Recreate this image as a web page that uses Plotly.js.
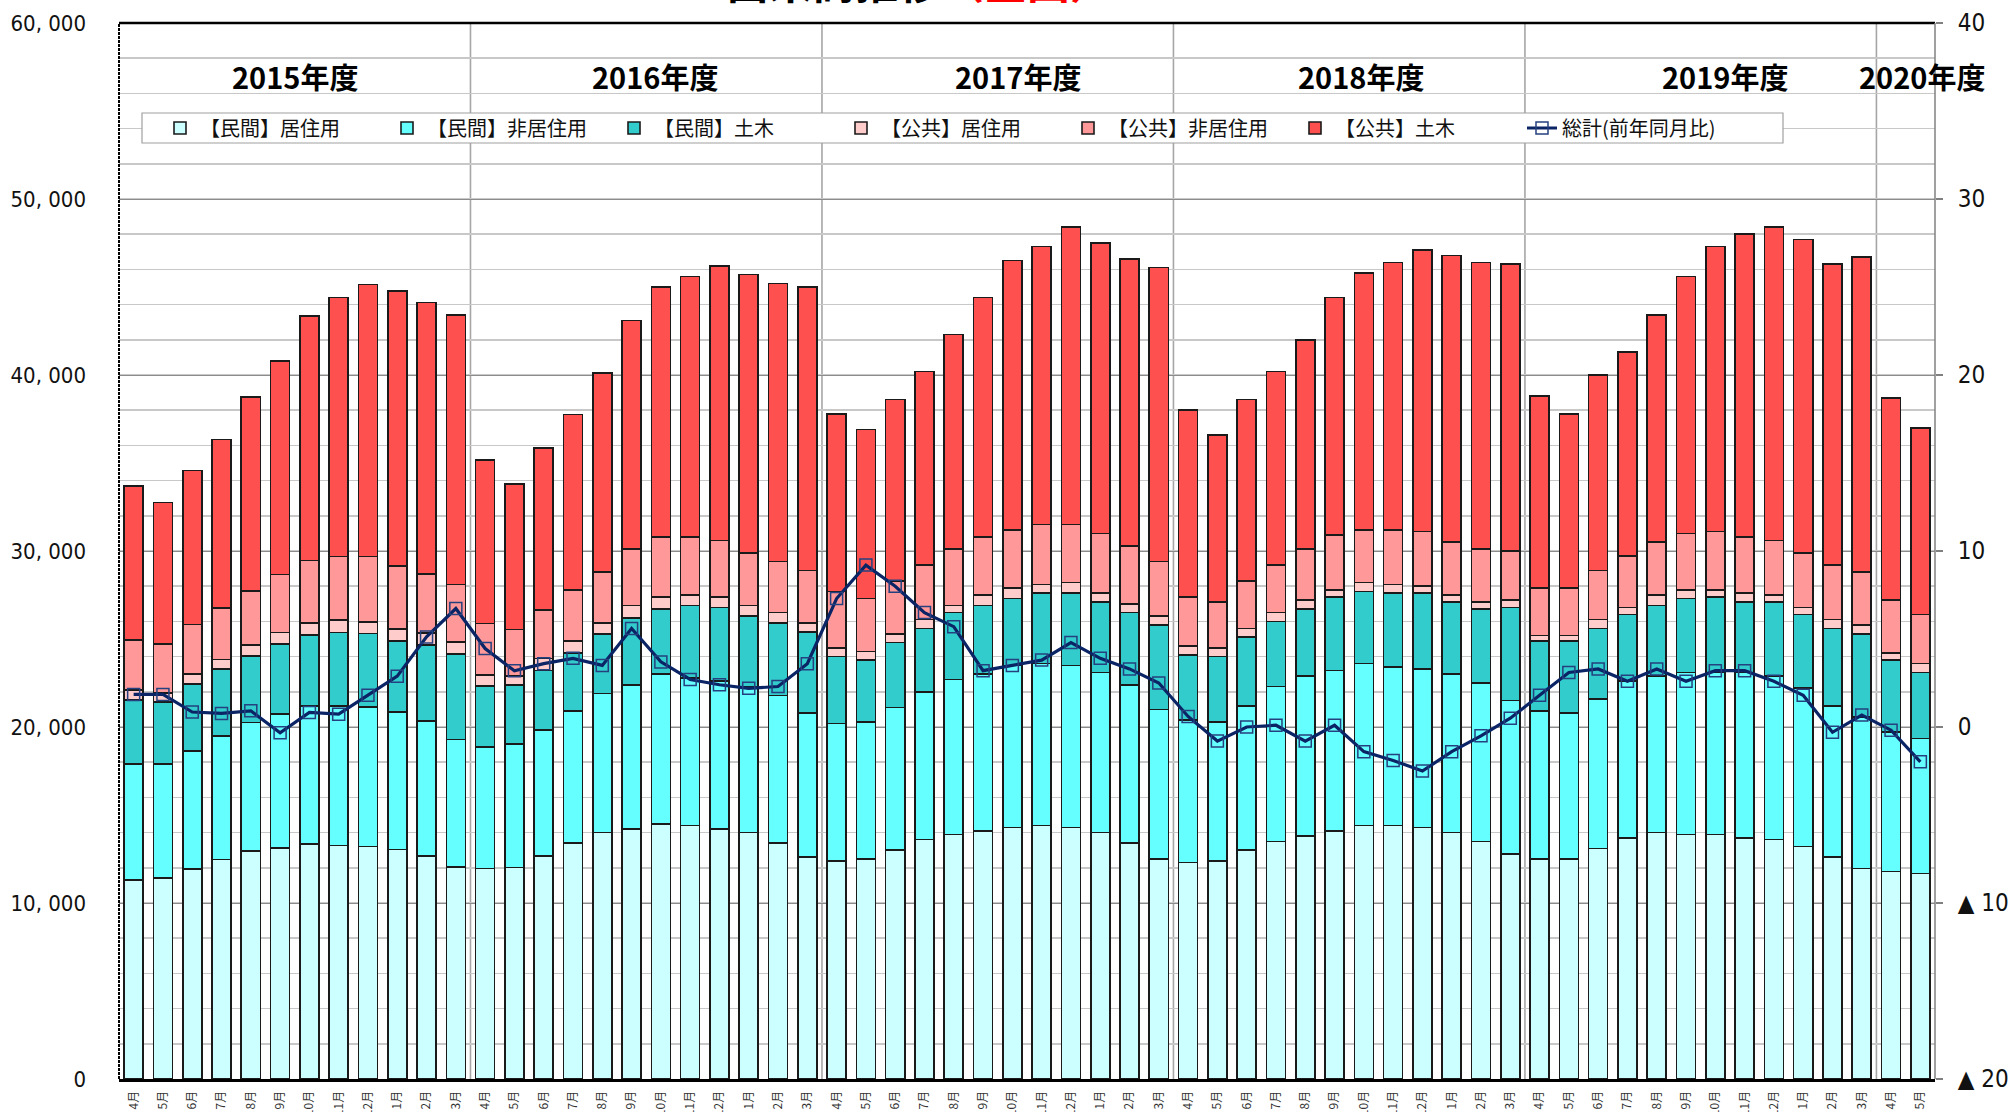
<!DOCTYPE html>
<html><head><meta charset="utf-8">
<script src="https://cdn.plot.ly/plotly-3.0.1.min.js"></script>
<style>html,body{margin:0;padding:0;background:#fff;overflow:hidden}#chart{width:2016px;height:1112px}</style>
</head><body><div id="chart"></div>
<script>
// ---- tick labels / categories ----
const months = [
 '4月','5月','6月','7月','8月','9月','10月','11月','12月','1月','2月','3月',
 '4月','5月','6月','7月','8月','9月','10月','11月','12月','1月','2月','3月',
 '4月','5月','6月','7月','8月','9月','10月','11月','12月','1月','2月','3月',
 '4月','5月','6月','7月','8月','9月','10月','11月','12月','1月','2月','3月',
 '4月','5月','6月','7月','8月','9月','10月','11月','12月','1月','2月','3月',
 '4月','5月'];
const fiscalYears = ['2015年度','2016年度','2017年度','2018年度','2019年度','2020年度'];
const seriesNames = ['【民間】居住用','【民間】非居住用','【民間】土木','【公共】居住用','【公共】非居住用','【公共】土木'];
const lineName = '総計(前年同月比)';

// ---- series values (億円) ----
const privRes = [
 11300,11430,11930,12480,12950,13140,13340,13270,13200,13050,12680,12030,
 11950,12020,12680,13400,14000,14200,14500,14400,14200,14000,13400,12600,
 12400,12500,13000,13600,13900,14100,14300,14400,14300,14000,13400,12500,
 12300,12400,13000,13500,13800,14100,14400,14400,14300,14000,13500,12800,
 12500,12500,13100,13700,14000,13900,13900,13700,13600,13200,12600,11970,
 11780,11680];
const privNonRes = [
 6590,6460,6720,7020,7310,7590,7850,7920,7950,7810,7650,7270,
 6930,7020,7160,7500,7900,8200,8500,8400,8400,8300,8400,8200,
 7800,7800,8100,8400,8800,8900,9200,9200,9200,9100,9000,8500,
 8100,7900,8200,8800,9100,9100,9200,9000,9000,9000,9000,8700,
 8400,8300,8500,8900,8900,9200,9200,9400,9300,9000,8600,8610,
 7950,7670];
const privCivil = [
 3640,3540,3800,3790,3780,3980,4030,4180,4170,4040,4320,4840,
 3460,3360,3360,3300,3400,3800,3700,4100,4200,4000,4100,4600,
 3800,3500,3700,3600,3800,3900,3800,4000,4100,4000,4100,4800,
 3700,3700,3900,3700,3800,4200,4100,4200,4300,4100,4200,5300,
 4000,4100,4000,3800,4000,4200,4300,4000,4200,4200,4400,4720,
 4070,3750];
const pubRes = [
 570,510,570,550,630,660,700,700,660,660,680,680,
 620,500,700,700,600,700,700,600,600,600,600,500,
 500,500,500,500,400,600,600,500,600,500,500,500,
 500,500,500,500,500,400,500,500,400,400,400,400,
 300,300,500,400,600,500,400,500,400,400,500,500,
 400,500];
const pubNonRes = [
 2840,2770,2810,2930,3070,3300,3540,3620,3710,3600,3350,3280,
 2920,2650,2750,2900,2900,3200,3400,3300,3200,3000,2900,3000,
 3200,3000,3000,3100,3200,3300,3300,3400,3300,3400,3300,3100,
 2800,2600,2700,2700,2900,3100,3000,3100,3100,3000,3000,2800,
 2700,2700,2800,2900,3000,3200,3300,3200,3100,3100,3100,3000,
 3000,2800];
const pubCivil = [
 8740,8050,8740,9570,11000,12110,13880,14710,15450,15610,15450,15310,
 9280,8250,9210,9960,11300,13000,14200,14800,15600,15800,15800,16100,
 10100,9600,10300,11000,12200,13600,15300,15800,16900,16500,16300,16700,
 10600,9500,10300,11000,11900,13500,14600,15200,16000,16300,16300,16300,
 10900,9900,11100,11600,12900,14600,16200,17200,17800,17800,17100,17900,
 11500,10600];
// 総計 前年同月比 (%)
const totalYoY = [
 1.85,1.85,0.85,0.77,0.92,-0.33,0.83,0.73,1.81,2.89,5.12,6.73,
 4.46,3.19,3.6,3.9,3.5,5.6,3.7,2.7,2.4,2.2,2.3,3.6,
 7.3,9.2,8.0,6.5,5.7,3.2,3.5,3.8,4.8,3.9,3.3,2.5,
 0.6,-0.8,0.0,0.1,-0.8,0.1,-1.4,-1.9,-2.5,-1.4,-0.5,0.5,
 1.8,3.1,3.3,2.6,3.3,2.6,3.2,3.2,2.6,1.8,-0.3,0.68,
 -0.18,-1.98];

const leftTicks = [0,10000,20000,30000,40000,50000,60000];
const leftTickText = ['0','10, 000','20, 000','30, 000','40, 000','50, 000','60, 000'];
const rightTicks = [-20,-10,0,10,20,30,40];
const rightTickText = ['▲ 20','▲ 10','0','10','20','30','40'];

const colors = ['#CCFFFF','#66FFFF','#33CCCC','#FFCCCC','#FF9999','#FF5050'];
const seriesVals = [privRes, privNonRes, privCivil, pubRes, pubNonRes, pubCivil];
const xs = months.map((m,i)=>i);

const traces = seriesVals.map((vals,k)=>({
  type:'bar', x:xs, y:vals, name:seriesNames[k],
  marker:{color:colors[k], line:{color:'#1a1a1a', width:1.6}},
  hoverinfo:'skip'
}));
traces.push({
  type:'scatter', mode:'lines+markers', x:xs, y:totalYoY, yaxis:'y2', name:lineName,
  line:{color:'#0a2466', width:3.2},
  marker:{symbol:'square-open', size:12, color:'#24407e', line:{width:1.5}},
  hoverinfo:'skip'
});

// fiscal-year groups
const starts = []; months.forEach((m,i)=>{ if(m==='4月') starts.push(i); });
const groups = starts.map((s,g)=>{ const e = (g+1<starts.length? starts[g+1]: months.length)-1; return [s,e]; });

const shapes = [];
starts.slice(1).forEach(s=>{
  shapes.push({type:'line', xref:'x', yref:'paper', x0:s-0.5, x1:s-0.5, y0:0, y1:1,
    line:{color:'#a6a6a6', width:1.6}, layer:'below'});
});
// frame
const PL=119, PR=1935, PT=23, PB=1079, PW=PR-PL, PH=PB-PT;
const px = v=>(v-PL)/PW, py = v=>(PB-v)/PH;
shapes.push({type:'line', xref:'paper', yref:'paper', x0:0, x1:1, y0:1, y1:1, line:{color:'#000', width:2.5}});
shapes.push({type:'line', xref:'paper', yref:'paper', x0:0, x1:0, y0:0, y1:1, line:{color:'#000', width:2, dash:'3px,1px'}});
shapes.push({type:'line', xref:'paper', yref:'paper', x0:1, x1:1, y0:0, y1:1, line:{color:'#808080', width:1.5}});
// legend box
shapes.push({type:'rect', xref:'paper', yref:'paper', x0:px(142), x1:px(1783), y0:py(143), y1:py(113),
  fillcolor:'#ffffff', line:{color:'#a0a0a0', width:1.2}, layer:'above'});

const yearLabelShift = [0, 9, 20, 12, 24, 16];
const annotations = groups.map((g,i)=>({
  xref:'x', yref:'paper', x:(g[0]+g[1])/2, y:py(76), xshift: yearLabelShift[i],
  text:fiscalYears[i], showarrow:false, xanchor:'center', yanchor:'middle',
  font:{family:'Noto Sans CJK JP', size:29, weight:'bold', color:'#000'}
}));
annotations.push({
  xref:'paper', yref:'paper', x:px(724), y:1, yshift:10, xanchor:'left', yanchor:'bottom',
  text:"出来高推移<span style='color:#ff0000'>（全国）</span>", showarrow:false,
  font:{family:'Noto Sans CJK JP', size:43, weight:'bold', color:'#000'}
});

const layout = {
  width:2016, height:1112,
  margin:{l:PL, r:2016-PR, t:PT, b:1112-PB, pad:0},
  paper_bgcolor:'#fff', plot_bgcolor:'#fff',
  barmode:'stack', bargap:0.35,
  showlegend:true,
  legend:{orientation:'h', x:px(160), y:py(128), xanchor:'left', yanchor:'middle',
    bgcolor:'rgba(0,0,0,0)', borderwidth:0, entrywidth:182, entrywidthmode:'pixels',
    traceorder:'normal',
    font:{family:'Noto Sans CJK JP', size:20, color:'#111'}},
  xaxis:{range:[-0.5, months.length-0.5], tickvals:xs, ticktext:months, tickangle:-90,
    showgrid:false, zeroline:false, showline:true, linecolor:'#000', linewidth:3,
    ticks:'', ticklabelstandoff:4,
    tickfont:{family:'Noto Sans CJK JP', size:12, color:'#333'}},
  yaxis:{range:[0,60000], tickvals:leftTicks, ticktext:leftTickText,
    showgrid:true, gridcolor:'#8c8c8c', gridwidth:1,
    minor:{dtick:2000, showgrid:true, gridcolor:'#c8c8c8', gridwidth:1.6, ticks:''},
    zeroline:false, showline:false, ticks:'', ticklabelstandoff:32,
    tickfont:{family:'Liberation Sans Narrow, DejaVu Sans Condensed, sans-serif', size:22, color:'#111'}},
  yaxis2:{overlaying:'y', side:'right', range:[-20,40], tickvals:rightTicks, ticktext:rightTickText,
    showgrid:false, zeroline:false, showline:false, ticks:'outside', ticklen:7, tickcolor:'#808080', tickwidth:1.5,
    ticklabelstandoff:10,
    tickfont:{family:'Liberation Sans Narrow, DejaVu Sans Condensed, sans-serif', size:24, color:'#111'}},
  shapes:shapes, annotations:annotations
};
Plotly.newPlot('chart', traces, layout, {displayModeBar:false, staticPlot:true});
</script></body></html>
